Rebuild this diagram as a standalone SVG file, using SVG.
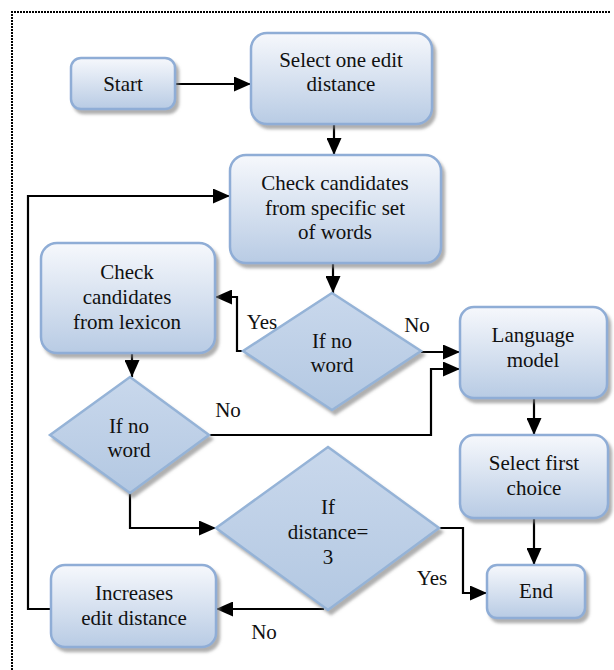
<svg xmlns="http://www.w3.org/2000/svg" width="614" height="670" viewBox="0 0 614 670">
<defs>
<linearGradient id="gBox" x1="0" y1="0" x2="0" y2="1">
<stop offset="0" stop-color="#f6f8fc"/>
<stop offset="1" stop-color="#b8cbe4"/>
</linearGradient>
<linearGradient id="gDia" x1="0" y1="0" x2="0" y2="1">
<stop offset="0" stop-color="#c9d8ec"/>
<stop offset="1" stop-color="#b3c8e2"/>
</linearGradient>
<filter id="sh" x="-10%" y="-10%" width="130%" height="130%">
<feDropShadow dx="3" dy="4" stdDeviation="1.5" flood-color="#7a7a7a" flood-opacity="0.6"/>
</filter>
<marker id="ah" markerUnits="userSpaceOnUse" markerWidth="17" markerHeight="15" refX="17" refY="7.5" orient="auto">
<path d="M0,0 L17,7.5 L0,15 z" fill="#000"/>
</marker>
</defs>
<style>
.box{fill:url(#gBox);stroke:#8fadd6;stroke-width:2.5;filter:url(#sh)}
.dia{fill:url(#gDia);stroke:#95b3d7;stroke-width:2.5;filter:url(#sh)}
text{font-size:21px;fill:#111;text-anchor:middle}
.c{fill:none;stroke:#000;stroke-width:2.2}
.a{marker-end:url(#ah)}
.frame{fill:none;stroke:#000;stroke-width:2;stroke-dasharray:2 1}
</style>
<path class="frame" d="M12,670 V12 H611"/>
<g id="connectors">
<path class="c a" d="M175,84 H251"/>
<path class="c a" d="M334,124 V155"/>
<path class="c a" d="M333,263 V293"/>
<path class="c a" d="M243,351 H237 V297 H215"/>
<path class="c a" d="M421,352 H460"/>
<path class="c a" d="M209,435 H431 V369 H460"/>
<path class="c a" d="M132,353 V377"/>
<path class="c a" d="M130,493 V528 H216"/>
<path class="c a" d="M439,528 H463 V593 H487"/>
<path class="c a" d="M324,609 H216"/>
<path class="c a" d="M51,609 H28 V196 H230"/>
<path class="c a" d="M534,398 V435"/>
<path class="c a" d="M534,518 V565"/>
</g>
<g font-family="'Liberation Serif', 'Times New Roman', 'DejaVu Serif', serif">
<g id="start"><rect class="box" x="71" y="58" width="104" height="51" rx="10"/><text x="123" y="91">Start</text></g>
<g id="select-edit"><rect class="box" x="251" y="33" width="181" height="91" rx="16"/><text x="341" y="67">Select one edit</text><text x="341" y="91">distance</text></g>
<g id="check-specific"><rect class="box" x="230" y="155" width="211" height="108" rx="16"/><text x="335" y="190">Check candidates</text><text x="335" y="215">from specific set</text><text x="335" y="239">of words</text></g>
<g id="check-lexicon"><rect class="box" x="41" y="243" width="174" height="110" rx="16"/><text x="127" y="279">Check</text><text x="127" y="304">candidates</text><text x="127" y="329">from lexicon</text></g>
<g id="if-no-word-1"><polygon class="dia" points="332,293 421,351 332,410 243,351"/><text x="332" y="348">If no</text><text x="332" y="372">word</text></g>
<g id="language-model"><rect class="box" x="460" y="307" width="147" height="91" rx="14"/><text x="533" y="342">Language</text><text x="533" y="367">model</text></g>
<g id="if-no-word-2"><polygon class="dia" points="130,377 209,435 130,493 50,435"/><text x="129" y="433">If no</text><text x="129" y="457">word</text></g>
<g id="select-first"><rect class="box" x="460" y="435" width="148" height="83" rx="14"/><text x="534" y="470">Select first</text><text x="534" y="495">choice</text></g>
<g id="if-distance"><polygon class="dia" points="328,447 439,528 328,610 216,528"/><text x="328" y="514">If</text><text x="328" y="539">distance=</text><text x="328" y="564">3</text></g>
<g id="end"><rect class="box" x="487" y="565" width="98" height="53" rx="10"/><text x="536" y="598">End</text></g>
<g id="increases"><rect class="box" x="51" y="565" width="165" height="82" rx="14"/><text x="134" y="600">Increases</text><text x="134" y="625">edit distance</text></g>
<g id="labels">
<text x="262" y="329">Yes</text>
<text x="417" y="332">No</text>
<text x="228" y="417">No</text>
<text x="432" y="585">Yes</text>
<text x="264" y="639">No</text>
</g>
</g>
</svg>
